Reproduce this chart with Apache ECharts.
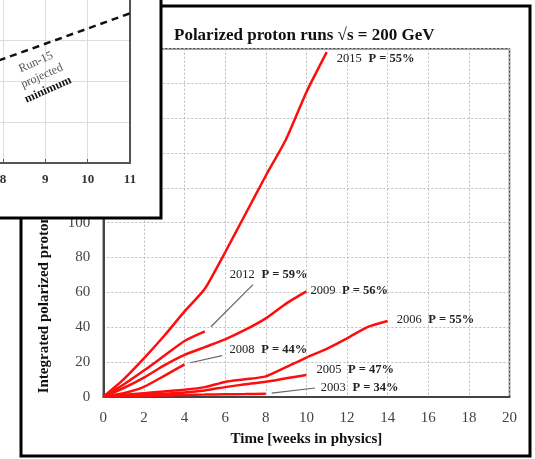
<!DOCTYPE html>
<html>
<head>
<meta charset="utf-8">
<script src="https://cdn.jsdelivr.net/npm/echarts@6/dist/echarts.min.js"></script>
<style>
    html, body { margin: 0; padding: 0; background: #fff; }
    #chart { width: 535px; height: 459px; }
</style>
</head>
<body>
<div id="chart"></div>
<script>
// 各年份数据 (weeks, integrated luminosity)
const w2015 = [0, 1, 2, 3, 4, 5, 6, 7, 8, 9, 10, 11]
const v2015 = [0, 10, 22, 35, 49, 62, 83, 105, 127, 148, 175, 198]
const w2012 = [0, 1, 2, 3, 4, 5]
const v2012 = [0, 7, 15, 23.5, 32, 37.5]
const w2009 = [0, 1, 2, 3, 4, 5, 6, 7, 8, 9, 10]
const v2009 = [0, 5, 11, 18, 24, 28.5, 33, 38.5, 45, 53.5, 60.5]
const w2008 = [0, 1, 2, 3, 4]
const v2008 = [0, 2, 5.7, 12, 18.6]
const w2006 = [0, 1, 2, 3, 4, 5, 6, 7, 8, 9, 10, 11, 12, 13, 14]
const v2006 = [0, 1, 2, 3, 4, 5.5, 8.5, 10, 11.7, 17, 22.5, 27.5, 33.5, 40, 43.5]
const w2005 = [0, 1, 2, 3, 4, 5, 6, 7, 8, 9, 10]
const v2005 = [0, 0.5, 1, 1.7, 2.4, 3.6, 5.5, 7.2, 8.6, 10.6, 12.5]
const w2003 = [0, 1, 2, 3, 4, 5, 6, 7, 8]
const v2003 = [0, 0.2, 0.4, 0.7, 1, 1.2, 1.4, 1.5, 1.7]

const runYears = ['2015', '2012', '2009', '2008', '2006', '2005', '2003']
const runPol = ['55%', '59%', '56%', '44%', '55%', '47%', '34%']

// inset: Run-15 projected minimum (dashed)
const insetWeeks = [7.9, 11]
const insetValues = [50, 73]
const insetTicks = [7, 8, 9, 10, 11]

const serif = 'Liberation Serif'

const runs = [
    { w: w2015, v: v2015, off: [5, 7] },
    { w: w2012, v: v2012, off: [20, -57], lead: [[5.3, 40.2], [7.37, 64.4]] },
    { w: w2009, v: v2009, off: [-1, -1] },
    { w: w2008, v: v2008, off: [40, -15], lead: [[4.28, 19.5], [5.85, 23.6]] },
    { w: w2006, v: v2006, off: [4, -1] },
    { w: w2005, v: v2005, off: [5, -5] },
    { w: w2003, v: v2003, off: [50, -6], lead: [[8.29, 2.1], [10.42, 5]] }
]

const series = runs.map((r, i) => {
    const s = {
        name: runYears[i],
        type: 'line',
        xAxisIndex: 0,
        yAxisIndex: 0,
        data: r.w.map((x, k) => [x, r.v[k]]),
        smooth: 0.2,
        showSymbol: false,
        symbol: 'none',
        lineStyle: { color: '#ff0d0d', width: 2.5 },
        itemStyle: { color: '#ff0d0d' },
        endLabel: {
            show: true,
            distance: 5,
            offset: r.off,
            formatter: '{y|' + runYears[i] + '}  {p|P = ' + runPol[i] + '}',
            rich: {
                y: { fontFamily: serif, fontSize: 12.5, color: '#222' },
                p: { fontFamily: serif, fontSize: 12.5, fontWeight: 'bold', color: '#222' }
            }
        },
        z: 3
    }
    if (r.lead) {
        s.markLine = {
            silent: true,
            symbol: 'none',
            label: { show: false },
            lineStyle: { color: '#666', width: 1.2, type: 'solid' },
            data: [[{ coord: r.lead[0] }, { coord: r.lead[1] }]]
        }
    }
    return s
})

series.push({
    name: 'Run-15 projected',
    type: 'line',
    xAxisIndex: 1,
    yAxisIndex: 1,
    data: insetWeeks.map((x, k) => [x, insetValues[k]]),
    symbol: 'none',
    lineStyle: { color: '#111', width: 2.5, type: [7, 5] },
    z: 102
})

const chart = echarts.init(document.getElementById('chart'))
chart.setOption({
    animation: false,
    title: {
        text: 'Polarized proton runs \u221As = 200 GeV',
        left: 169,
        top: 22,
        textStyle: { fontFamily: serif, fontSize: 17, fontWeight: 'bold', color: '#111' }
    },
    grid: [
        {
            left: 103.3, right: 25.5, top: 48.7, bottom: 62.3,
            outerBoundsMode: 'none',
            show: true, borderColor: '#444', borderWidth: 1.5
        },
        {
            left: -39.4, right: 405, top: -1, bottom: 296, z: 101,
            outerBoundsMode: 'none'
        }
    ],
    xAxis: [
        {
            type: 'value', gridIndex: 0, min: 0, max: 20, interval: 2,
            name: 'Time [weeks in physics]',
            nameLocation: 'middle',
            nameGap: 35,
            nameTextStyle: { fontFamily: serif, fontSize: 15, fontWeight: 'bold', color: '#111' },
            axisLine: { lineStyle: { color: '#444', width: 2 } },
            axisTick: { show: false },
            axisLabel: { margin: 14, fontFamily: serif, fontSize: 15, color: '#444' },
            splitLine: { lineStyle: { color: '#bbb', type: [2, 2], width: 1 } }
        },
        {
            type: 'value', gridIndex: 1, min: insetTicks[0], max: insetTicks[insetTicks.length - 1], interval: 1,
            z: 101,
            axisLine: { lineStyle: { color: '#555', width: 2 } },
            axisTick: { show: true, inside: true, length: 4, lineStyle: { color: '#555' } },
            axisLabel: { margin: 10, fontFamily: serif, fontSize: 13, fontWeight: 'bold', color: '#333' },
            splitLine: { lineStyle: { color: '#ddd', width: 1 } }
        }
    ],
    yAxis: [
        {
            type: 'value', gridIndex: 0, min: 0, max: 200, interval: 20,
            name: 'Integrated polarized proton luminosity [pb\u207B\u00B9]',
            nameLocation: 'middle',
            nameGap: 52,
            nameTextStyle: { fontFamily: serif, fontSize: 15, fontWeight: 'bold', color: '#111', padding: [0, 52, 0, 0] },
            axisLine: { show: true, lineStyle: { color: '#444', width: 2 } },
            axisTick: { show: false },
            axisLabel: { margin: 13, fontFamily: serif, fontSize: 15, color: '#444' },
            splitLine: { lineStyle: { color: '#bbb', type: [2, 2], width: 1 } }
        },
        {
            type: 'value', gridIndex: 1, min: 0, max: 80, interval: 20,
            position: 'right',
            z: 101,
            axisLine: { show: true, lineStyle: { color: '#555', width: 2 } },
            axisTick: { show: false },
            axisLabel: { show: false },
            splitLine: { lineStyle: { color: '#ddd', width: 1 } }
        }
    ],
    graphic: [
        {
            type: 'rect', z: 99, silent: true,
            shape: { x: 21, y: 6, width: 509, height: 450 },
            style: { fill: 'none', stroke: '#000', lineWidth: 3 }
        },
        {
            type: 'rect', z: 100, silent: true,
            shape: { x: -10, y: -10, width: 171, height: 228 },
            style: { fill: '#fff', stroke: '#000', lineWidth: 3 }
        },
        {
            type: 'group', x: 42, y: 76, rotation: 24 * Math.PI / 180, z: 103,
            children: [
                { type: 'text', z: 103, y: -15, style: { text: 'Run-15', x: 0, y: 0, textAlign: 'center', textVerticalAlign: 'middle', fontFamily: serif, fontSize: 12, fill: '#555' } },
                { type: 'text', z: 103, y: 0, style: { text: 'projected', x: 0, y: 0, textAlign: 'center', textVerticalAlign: 'middle', fontFamily: serif, fontSize: 12, fill: '#555' } },
                { type: 'text', z: 103, y: 15, style: { text: 'minimum', x: 0, y: 0, textAlign: 'center', textVerticalAlign: 'middle', fontFamily: serif, fontSize: 12, fontWeight: 'bold', fill: '#111' } }
            ]
        }
    ],
    series: series
})
</script>
</body>
</html>
